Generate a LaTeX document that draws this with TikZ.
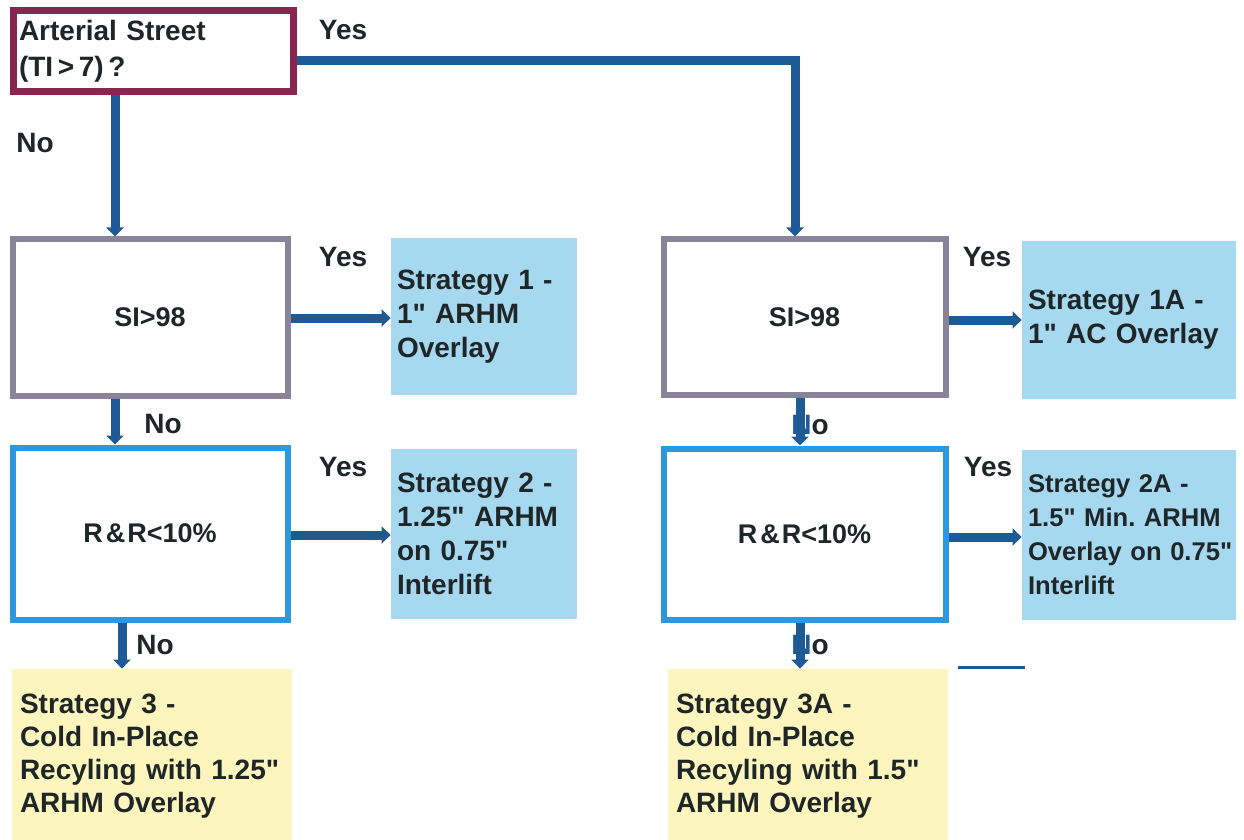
\documentclass[tikz,border=0pt]{standalone}
\usepackage{fontspec}
\setmainfont{Liberation Sans}[Ligatures=TeXOff]
\usetikzlibrary{arrows.meta}
\definecolor{arrowblue}{HTML}{1D5A96}
\definecolor{qborder}{HTML}{8C2450}
\definecolor{grayborder}{HTML}{8A849A}
\definecolor{blueborder}{HTML}{2B98DF}
\definecolor{stratblue}{HTML}{A6D8F0}
\definecolor{stratyellow}{HTML}{FCF6BE}
\definecolor{txt}{HTML}{1F2628}
\frenchspacing
\tikzset{
  lbl/.style={font=\fontsize{14}{17}\selectfont\bfseries, text=txt, inner sep=0pt},
  qbox/.style={draw=qborder, line width=3.5pt, fill=white, align=left, inner xsep=3pt,
               font=\fontsize{14}{18}\selectfont\bfseries, text=txt},
  sibox/.style={draw=grayborder, line width=3pt, fill=white, align=center,
               font=\fontsize{13.5}{17}\selectfont\bfseries, text=txt},
  rrbox/.style={draw=blueborder, line width=3pt, fill=white, align=center,
               font=\fontsize{13.5}{17}\selectfont\bfseries, text=txt},
  sblue/.style={fill=stratblue, draw=none, align=left, inner xsep=3pt,
               font=\fontsize{14}{17}\selectfont\bfseries, text=txt},
  syellow/.style={fill=stratyellow, draw=none, align=left, inner xsep=4pt,
               font=\fontsize{14}{16.5}\selectfont\bfseries, text=txt},
  arr/.style={draw=arrowblue, line width=4.5pt, -{Triangle[width=8.5pt,length=4.5pt]}},
}
\begin{document}
\begin{tikzpicture}[x=0.5pt,y=-0.5pt]
\useasboundingbox[fill=white] (0,0) rectangle (1244,840);

% decision boxes
\node[qbox, text width=134pt, minimum height=40.5pt] (a) at (153,51)
  {Arterial Street\\(TI\,>\,7)\,?};
\node[sibox, minimum width=137.5pt, minimum height=78pt] (si1) at (150,317.5) {SI>98};
\node[rrbox, minimum width=137.5pt, minimum height=86pt] (rr1) at (150,533.5) {R\kern1.5pt\&\kern1pt R<10\%};
\node[sibox, minimum width=141pt, minimum height=77.5pt] (si2) at (804.5,317) {SI>98};
\node[rrbox, minimum width=141pt, minimum height=85.5pt] (rr2) at (804.5,534) {R\kern1.5pt\&\kern1pt R<10\%};

% strategy boxes
\node[sblue, text width=87pt, minimum height=78.5pt] (s1) at (484,316.5)
  {Strategy 1 -\\1" ARHM\\Overlay};
\node[sblue, text width=87pt, minimum height=85pt] (s2) at (484,534)
  {Strategy 2 -\\1.25" ARHM\\on 0.75"\\Interlift};
\node[sblue, text width=101pt, minimum height=79pt] (s1a) at (1129,320)
  {Strategy 1A -\\1" AC Overlay};
\node[sblue, text width=101pt, minimum height=85pt,
      font=\fontsize{12.8}{17}\selectfont\bfseries] (s2a) at (1129,535)
  {\mbox{Strategy 2A -}\\\mbox{1.5" Min. ARHM}\\\mbox{Overlay on 0.75"}\\\mbox{Interlift}};
\node[syellow, text width=132pt, minimum height=87pt] (s3) at (152,756)
  {Strategy 3 -\\Cold In-Place\\Recyling with 1.25"\\ARHM Overlay};
\node[syellow, text width=132pt, minimum height=87pt] (s3a) at (808,756)
  {Strategy 3A -\\Cold In-Place\\Recyling with 1.5"\\ARHM Overlay};

% labels
\node[lbl] (yes0) at (343,30) {Yes};
\node[lbl] (no0) at (35,143) {No};
\node[lbl] (yes1) at (343,257) {Yes};
\node[lbl] (no1) at (163,424) {No};
\node[lbl] (yes2) at (343,467) {Yes};
\node[lbl] (no2) at (155,645) {No};
\node[lbl] (yes3) at (987,257) {Yes};
\node[lbl] (no3) at (810,425) {{\color{arrowblue}N}o};
\node[lbl] (yes4) at (988,467) {Yes};
\node[lbl] (no4) at (810,645) {{\color{arrowblue}N}o};

% helper coordinates
\coordinate (xl) at (115,0);
\coordinate (xl2) at (122,0);
\coordinate (xr) at (795,0);
\coordinate (xr2) at (800,0);
\coordinate (ytop) at (0,61);
\coordinate (ys1) at (0,318);
\coordinate (ys2) at (0,535);
\coordinate (ys1a) at (0,320);
\coordinate (ys2a) at (0,537);

% connectors
\draw[arr] (a.south -| xl) -- (si1.north -| xl);
\draw[arr] (a.east |- ytop) -| (si2.north -| xr);
\draw[arr] (si1.east |- ys1) -- (s1.west |- ys1);
\draw[arr] (si1.south -| xl) -- (rr1.north -| xl);
\draw[arr] (rr1.east |- ys2) -- (s2.west |- ys2);
\draw[arr] (rr1.south -| xl2) -- (s3.north -| xl2);
\draw[arr] (si2.east |- ys1a) -- (s1a.west |- ys1a);
\draw[arr] (si2.south -| xr2) -- (rr2.north -| xr2);
\draw[arr] (rr2.east |- ys2a) -- (s2a.west |- ys2a);
\draw[arr] (rr2.south -| xr2) -- (s3a.north -| xr2);

% stray short line
\coordinate (st1) at (958,667);
\coordinate (st2) at (1025,667);
\draw[arrowblue, line width=1.5pt] (st1) -- (st2);
\end{tikzpicture}
\end{document}
